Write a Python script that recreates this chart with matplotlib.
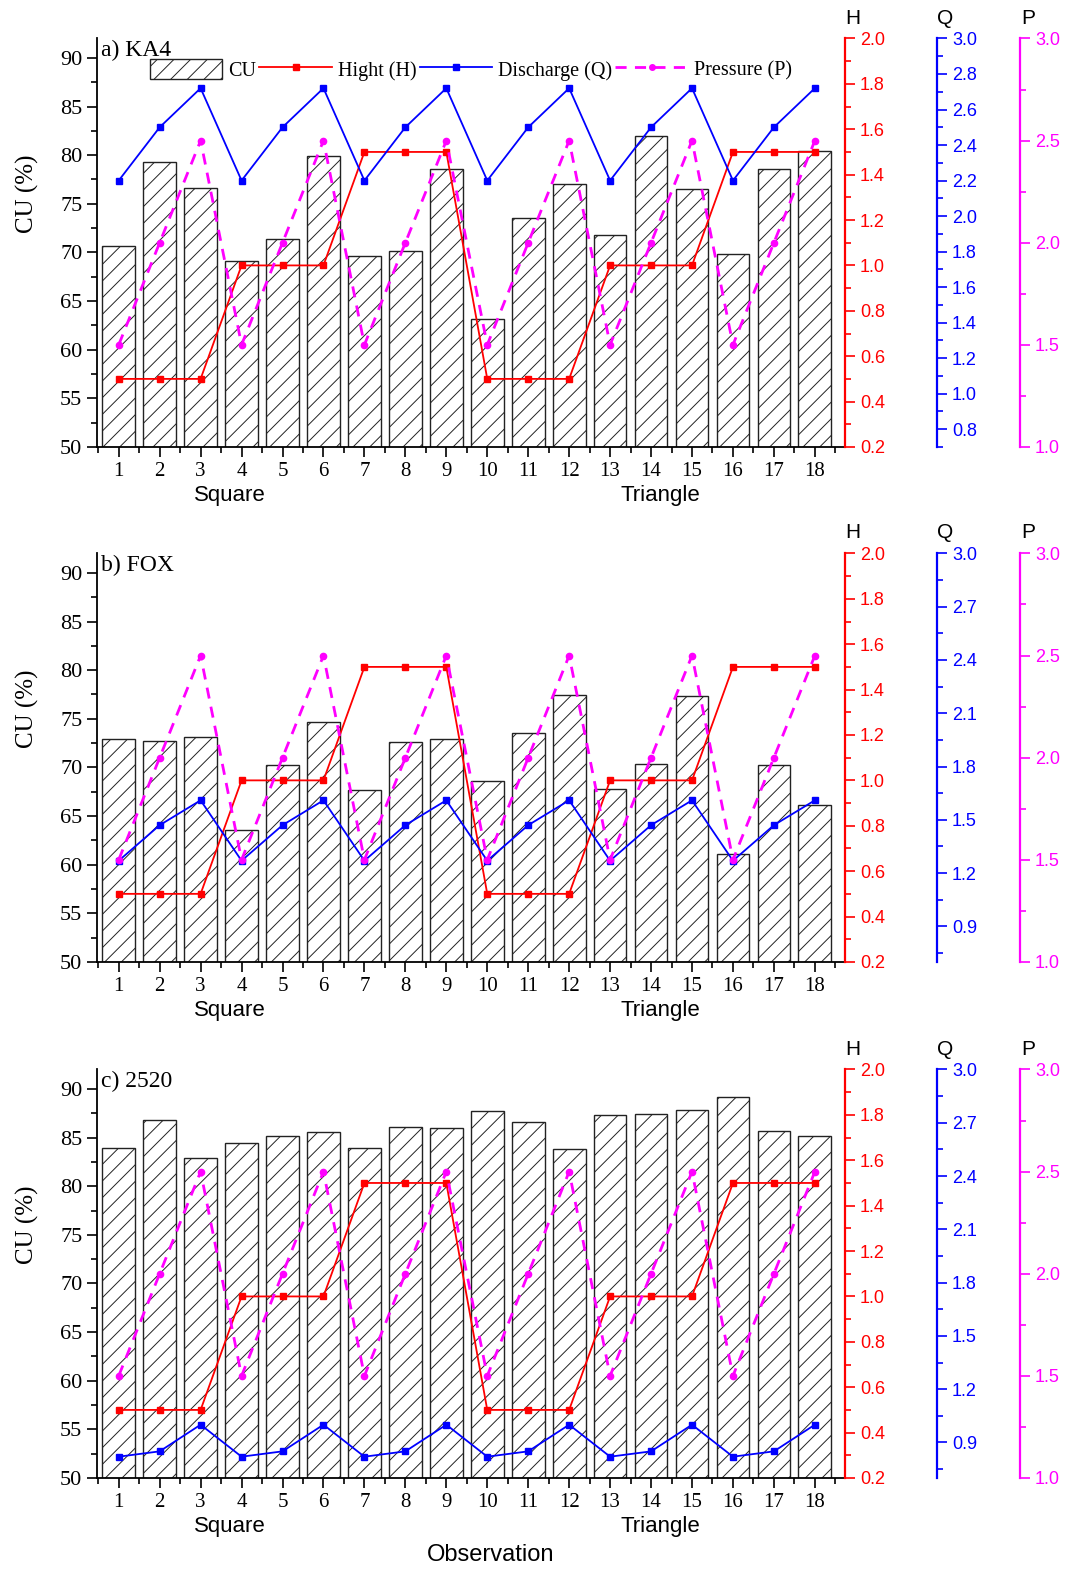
import matplotlib
matplotlib.use('Agg')
import matplotlib.pyplot as plt
from matplotlib.ticker import MultipleLocator
from matplotlib.patches import Patch
from matplotlib.lines import Line2D

SERIF = 'Liberation Serif'
SANS = 'Liberation Sans'

observation = list(range(1, 18 + 1))
panel_titles = ['a) KA4', 'b) FOX', 'c) 2520']

cu_ka4 = [70.7, 79.3, 76.6, 69.1, 71.4, 79.9, 69.6, 70.1, 78.6,
          63.2, 73.5, 77.0, 71.8, 82.0, 76.5, 69.8, 78.6, 80.4]
cu_fox = [72.9, 72.7, 73.1, 63.6, 70.2, 74.7, 67.7, 72.6, 72.9,
          68.6, 73.5, 77.4, 67.8, 70.4, 77.3, 61.1, 70.2, 66.1]
cu_2520 = [83.9, 86.8, 82.9, 84.4, 85.2, 85.6, 83.9, 86.1, 86.0,
           87.7, 86.6, 83.8, 87.3, 87.4, 87.8, 89.2, 85.7, 85.2]

height_h = [0.5, 0.5, 0.5, 1.0, 1.0, 1.0, 1.5, 1.5, 1.5,
            0.5, 0.5, 0.5, 1.0, 1.0, 1.0, 1.5, 1.5, 1.5]
pressure_p = [1.5, 2.0, 2.5, 1.5, 2.0, 2.5, 1.5, 2.0, 2.5,
              1.5, 2.0, 2.5, 1.5, 2.0, 2.5, 1.5, 2.0, 2.5]
q_ka4 = [2.20, 2.50, 2.72, 2.20, 2.50, 2.72, 2.20, 2.50, 2.72,
         2.20, 2.50, 2.72, 2.20, 2.50, 2.72, 2.20, 2.50, 2.72]
q_fox = [1.27, 1.47, 1.61, 1.27, 1.47, 1.61, 1.27, 1.47, 1.61,
         1.27, 1.47, 1.61, 1.27, 1.47, 1.61, 1.27, 1.47, 1.61]
q_2520 = [0.82, 0.85, 1.00, 0.82, 0.85, 1.00, 0.82, 0.85, 1.00,
          0.82, 0.85, 1.00, 0.82, 0.85, 1.00, 0.82, 0.85, 1.00]

cu_sets = [cu_ka4, cu_fox, cu_2520]
q_sets = [q_ka4, q_fox, q_2520]
q_major = [0.2, 0.3, 0.3]

RED = '#ff0000'
BLUE = '#0000ff'
MAGENTA = '#ff00ff'

plt.rcParams['hatch.linewidth'] = 0.7
plt.rcParams['hatch.color'] = '#222222'

fig = plt.figure(figsize=(10.9, 15.7), dpi=100)
bottoms = [0.7153, 0.3873, 0.0586]


def style_side_axis(ax, color, pos, lo, hi, major, minor, label):
    for name, sp in ax.spines.items():
        sp.set_visible(name == 'right')
    ax.spines['right'].set_position(('axes', pos))
    ax.spines['right'].set_color(color)
    ax.spines['right'].set_linewidth(1.6)
    ax.set_ylim(lo, hi)
    ax.yaxis.set_major_locator(MultipleLocator(major))
    ax.yaxis.set_minor_locator(MultipleLocator(minor))
    ax.tick_params(axis='y', which='both', colors=color, direction='out',
                   labelsize=13, width=1.2)
    ax.tick_params(axis='y', which='major', length=7, pad=4)
    ax.tick_params(axis='y', which='minor', length=4)
    for t in ax.get_yticklabels():
        t.set_fontfamily(SANS)
        t.set_color(color)
    ax.text(pos + 0.011, 1.05, label, transform=ax.transAxes, fontsize=15,
            fontfamily=SANS, color='black', ha='center', va='center')


for i in range(3):
    ax = fig.add_axes([0.089, bottoms[i], 0.686, 0.2602])
    ax.bar(observation, cu_sets[i], width=0.8, color='white',
           edgecolor='#222222', linewidth=1.0, hatch='//', zorder=2)
    ax.set_xlim(0.47, 18.73)
    ax.set_ylim(50, 92)
    ax.yaxis.set_major_locator(MultipleLocator(5))
    ax.yaxis.set_minor_locator(MultipleLocator(2.5))
    ax.set_xticks(observation)
    ax.xaxis.set_minor_locator(MultipleLocator(1, offset=0.5))
    ax.spines['top'].set_visible(False)
    ax.spines['right'].set_visible(False)
    ax.spines['left'].set_linewidth(1.3)
    ax.spines['bottom'].set_linewidth(1.3)
    ax.tick_params(which='both', direction='out', width=1.2)
    ax.tick_params(axis='x', labelsize=15)
    ax.tick_params(axis='y', labelsize=16)
    ax.tick_params(which='major', length=7)
    ax.tick_params(which='minor', length=4)
    for t in ax.get_xticklabels() + ax.get_yticklabels():
        t.set_fontfamily(SERIF)
    ax.set_ylabel('CU (%)', fontsize=18, fontfamily=SERIF)
    ax.yaxis.set_label_coords(-0.078, 0.62)
    ax.text(0.005, 0.997, panel_titles[i], transform=ax.transAxes,
            fontsize=17, fontfamily=SERIF, ha='left', va='top')
    ax.text(0.178, -0.118, 'Square', transform=ax.transAxes, fontsize=16,
            fontfamily=SANS, ha='center', va='center')
    ax.text(0.753, -0.118, 'Triangle', transform=ax.transAxes, fontsize=16,
            fontfamily=SANS, ha='center', va='center')

    hax = ax.twinx()
    style_side_axis(hax, RED, 1.0, 0.2, 2.0, 0.2, 0.1, 'H')
    hax.plot(observation, height_h, color=RED, lw=1.3, marker='s', ms=4.5)

    qax = ax.twinx()
    style_side_axis(qax, BLUE, 1.123, 0.7, 3.0, q_major[i], q_major[i] / 2, 'Q')
    qax.plot(observation, q_sets[i], color=BLUE, lw=1.3, marker='s', ms=4.5)

    pax = ax.twinx()
    style_side_axis(pax, MAGENTA, 1.234, 1.0, 3.0, 0.5, 0.25, 'P')
    pax.plot(observation, pressure_p, color=MAGENTA, lw=2.0,
             linestyle=(0, (4, 3)), marker='o', ms=4.5)

    if i == 0:
        handles = [
            Patch(facecolor='white', edgecolor='#222222', hatch='//', label='CU'),
            Line2D([], [], color=RED, lw=1.3, marker='s', ms=4, label='Hight (H)'),
            Line2D([], [], color=BLUE, lw=1.3, marker='s', ms=4, label='Discharge (Q)'),
            Line2D([], [], color=MAGENTA, lw=2.0, linestyle=(0, (4, 3)),
                   marker='o', ms=4, label='Pressure (P)'),
        ]
        pax.legend(handles=handles, loc='upper center', bbox_to_anchor=(0.5, 0.995),
                   ncol=4, frameon=False, handlelength=3.6, handleheight=1.2,
                   handletextpad=0.3, columnspacing=0.15,
                   prop={'family': SERIF, 'size': 14.5})

fig.text(0.45, 0.0096, 'Observation', fontsize=17, fontfamily=SANS,
         ha='center', va='center')

fig.savefig('out.png', dpi=100)
